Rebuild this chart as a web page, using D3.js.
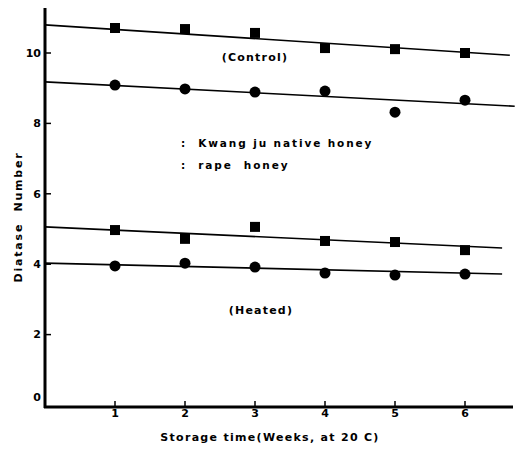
<!DOCTYPE html>
<html>
<head>
<meta charset="utf-8">
<script src="https://cdn.jsdelivr.net/npm/d3@7"></script>
<style>
  html, body { margin: 0; padding: 0; background: #fff; }
  svg { display: block; }
  text { font-family: "DejaVu Sans", sans-serif; font-weight: bold; fill: #000; }
</style>
</head>
<body>
<script>
// Storage weeks at 20 C
const weeks = [1, 2, 3, 4, 5, 6];
const xTickLabels = ["1", "2", "3", "4", "5", "6"];
const yTicks = [0, 2, 4, 6, 8, 10];

// Diastase number, control honeys
const controlKwangju = [10.71, 10.68, 10.57, 10.14, 10.11, 10.0];   // squares
const controlRape    = [9.09, 8.98, 8.89, 8.92, 8.32, 8.66];        // circles
// Diastase number, heated honeys
const heatedKwangju  = [4.97, 4.72, 5.06, 4.66, 4.63, 4.40];        // squares
const heatedRape     = [3.95, 4.03, 3.92, 3.75, 3.69, 3.72];        // circles

// Fitted lines: value = intercept + slope * week, drawn from week 0 to end
const fitIntercepts = [10.80, 9.18, 5.06, 4.03];
const fitSlopes     = [-0.130, -0.103, -0.092, -0.047];
const fitEnds       = [6.64, 6.71, 6.53, 6.53];

const W = 516, H = 452;
const svg = d3.select("body").append("svg").attr("width", W).attr("height", H);

const x = d3.scaleLinear().domain([0, 6]).range([45, 465]);
const y = d3.scaleLinear().domain([0, 10]).range([405, 53]);

// Axes
const axisY = 407;
svg.append("line").attr("x1", 45).attr("x2", 45).attr("y1", 8).attr("y2", axisY + 1)
  .attr("stroke", "#000").attr("stroke-width", 3);
svg.append("line").attr("x1", 44).attr("x2", 513).attr("y1", axisY).attr("y2", axisY)
  .attr("stroke", "#000").attr("stroke-width", 3);

// Y ticks (pointing inward) and labels
const gy = svg.append("g");
yTicks.forEach(v => {
  if (v > 0) {
    gy.append("line").attr("x1", 45).attr("x2", 51).attr("y1", y(v)).attr("y2", y(v))
      .attr("stroke", "#000").attr("stroke-width", 1.5);
  }
  gy.append("text").attr("x", 41).attr("y", v === 0 ? y(v) - 8 : y(v)).attr("dy", "0.35em")
    .attr("text-anchor", "end").attr("font-size", 11).text(v);
});

// X ticks (pointing up) and labels
const gx = svg.append("g");
weeks.forEach((w, i) => {
  gx.append("line").attr("x1", x(w)).attr("x2", x(w)).attr("y1", axisY).attr("y2", axisY - 6)
    .attr("stroke", "#000").attr("stroke-width", 1.5);
  gx.append("text").attr("x", x(w)).attr("y", 417).attr("text-anchor", "middle")
    .attr("font-size", 11).text(xTickLabels[i]);
});

// Axis titles
svg.append("text").attr("x", 270).attr("y", 441).attr("text-anchor", "middle")
  .attr("font-size", 11).attr("letter-spacing", 1.3)
  .text("Storage time(Weeks, at 20 C)");
svg.append("text").attr("transform", "translate(22,217) rotate(-90)")
  .attr("text-anchor", "middle").attr("font-size", 11).attr("letter-spacing", 1.8)
  .attr("xml:space", "preserve")
  .text("Diatase  Number");

// Fitted lines
fitIntercepts.forEach((b, i) => {
  svg.append("line")
    .attr("x1", x(0)).attr("y1", y(b))
    .attr("x2", x(fitEnds[i])).attr("y2", y(b + fitSlopes[i] * fitEnds[i]))
    .attr("stroke", "#000").attr("stroke-width", 1.6);
});

// Markers
function squares(vals) {
  svg.append("g").selectAll("rect").data(vals).join("rect")
    .attr("x", (d, i) => x(weeks[i]) - 5).attr("y", d => y(d) - 5)
    .attr("width", 10).attr("height", 10).attr("fill", "#000");
}
function circles(vals) {
  svg.append("g").selectAll("circle").data(vals).join("circle")
    .attr("cx", (d, i) => x(weeks[i])).attr("cy", d => y(d))
    .attr("r", 5.5).attr("fill", "#000");
}
squares(controlKwangju);
circles(controlRape);
squares(heatedKwangju);
circles(heatedRape);

// Group labels
svg.append("text").attr("x", 255).attr("y", 61).attr("text-anchor", "middle")
  .attr("font-size", 11).attr("letter-spacing", 1.2).text("(Control)");
svg.append("text").attr("x", 261).attr("y", 314).attr("text-anchor", "middle")
  .attr("font-size", 11).attr("letter-spacing", 1.2).text("(Heated)");

// Legend
svg.append("text").attr("x", 181).attr("y", 147).attr("font-size", 10.5)
  .attr("letter-spacing", 1.9).attr("xml:space", "preserve").text(":  Kwang ju native honey");
svg.append("text").attr("x", 181).attr("y", 169).attr("font-size", 10.5)
  .attr("letter-spacing", 1.9).attr("xml:space", "preserve").text(":  rape  honey");
</script>
</body>
</html>
